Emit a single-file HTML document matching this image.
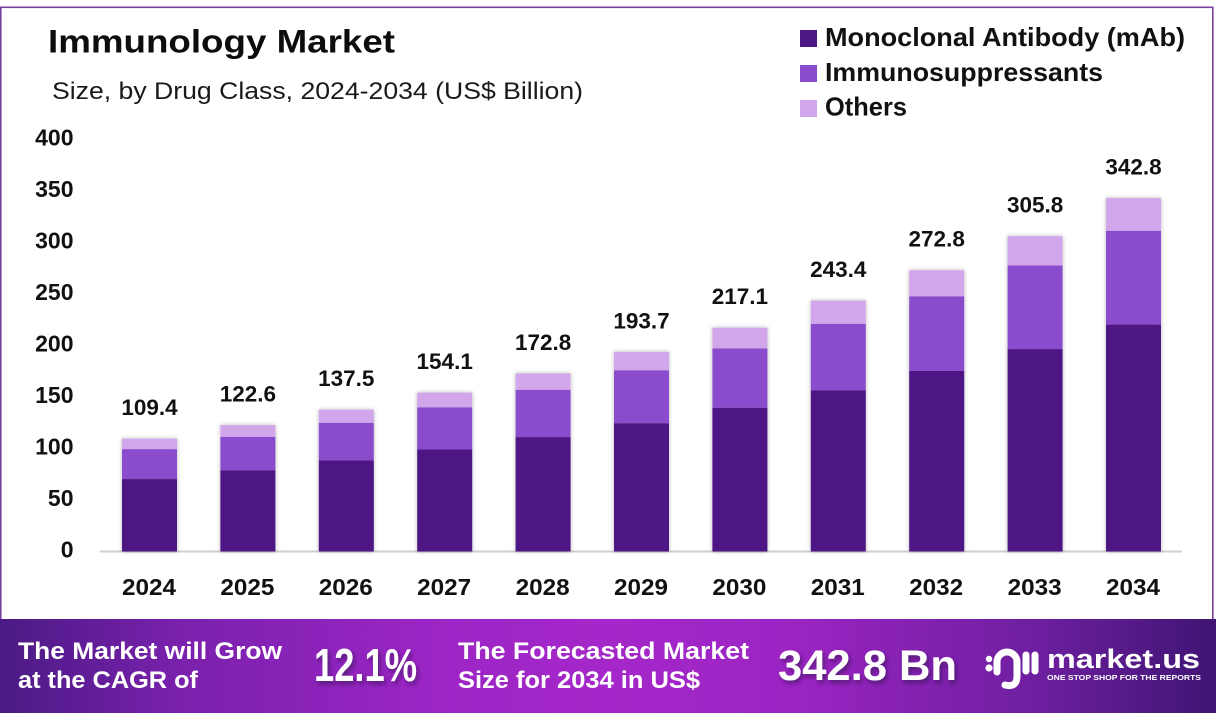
<!DOCTYPE html>
<html>
<head>
<meta charset="utf-8">
<style>
html,body{margin:0;padding:0;background:#fff;}
body{width:1216px;height:722px;overflow:hidden;}
svg{display:block;font-family:"Liberation Sans",sans-serif;}
</style>
</head>
<body>
<svg width="1216" height="722" viewBox="0 0 1216 722" xmlns="http://www.w3.org/2000/svg">
<defs>
  <linearGradient id="ban" x1="0" y1="0" x2="1" y2="0">
    <stop offset="0" stop-color="#4a1a84"/>
    <stop offset="0.15" stop-color="#7a21ad"/>
    <stop offset="0.35" stop-color="#9b25c4"/>
    <stop offset="0.5" stop-color="#a527c9"/>
    <stop offset="0.65" stop-color="#9c24c3"/>
    <stop offset="0.85" stop-color="#6e1fa0"/>
    <stop offset="1" stop-color="#3f1573"/>
  </linearGradient>
  <filter id="bs" x="-20%" y="-5%" width="140%" height="110%">
    <feDropShadow dx="0" dy="0" stdDeviation="2" flood-color="#000" flood-opacity="0.28"/>
  </filter>
  <filter id="ts" x="-10%" y="-20%" width="130%" height="150%">
    <feDropShadow dx="2" dy="3" stdDeviation="2" flood-color="#2a0a45" flood-opacity="0.55"/>
  </filter>
</defs>

<rect x="0" y="0" width="1216" height="722" fill="#fff"/>
<!-- frame -->
<rect x="0.8" y="7.3" width="1212" height="613" fill="none" stroke="#7b3f9f" stroke-width="1.6"/>

<!-- title -->
<text x="48" y="52.5" font-size="32" font-weight="bold" fill="#0d0d0d" textLength="347" lengthAdjust="spacingAndGlyphs">Immunology Market</text>
<text x="52" y="99" font-size="24" fill="#1a1a1a" textLength="531" lengthAdjust="spacingAndGlyphs">Size, by Drug Class, 2024-2034 (US$ Billion)</text>

<!-- legend -->
<rect x="800" y="30" width="17" height="17" fill="#4d1684"/>
<rect x="800" y="65" width="17" height="17" fill="#8a4ccc"/>
<rect x="800" y="100" width="17" height="17" fill="#d1a6ea"/>
<text x="825" y="46" font-size="26" font-weight="bold" fill="#111" textLength="360" lengthAdjust="spacingAndGlyphs">Monoclonal Antibody (mAb)</text>
<text x="825" y="81" font-size="26" font-weight="bold" fill="#111" textLength="278" lengthAdjust="spacingAndGlyphs">Immunosuppressants</text>
<text x="825" y="115.5" font-size="26" font-weight="bold" fill="#111" textLength="82" lengthAdjust="spacingAndGlyphs">Others</text>

<!-- y axis labels -->
<g font-size="23" font-weight="bold" fill="#111" text-anchor="end">
  <text x="73.5" y="145.5">400</text>
  <text x="73.5" y="197">350</text>
  <text x="73.5" y="248.5">300</text>
  <text x="73.5" y="300">250</text>
  <text x="73.5" y="351.5">200</text>
  <text x="73.5" y="403">150</text>
  <text x="73.5" y="454.5">100</text>
  <text x="73.5" y="506">50</text>
  <text x="73.5" y="557.5">0</text>
</g>

<!-- baseline -->
<line x1="100" y1="551.5" x2="1182" y2="551.5" stroke="#cfcfcf" stroke-width="2"/>

<!-- bars -->
<g filter="url(#bs)">
  <rect x="122" y="438.7" width="55" height="10.5" fill="#d1a6ea"/>
  <rect x="122" y="449.2" width="55" height="29.9" fill="#8a4ccc"/>
  <rect x="122" y="479.1" width="55" height="72.4" fill="#4d1684"/>
</g>
<g filter="url(#bs)">
  <rect x="220.4" y="425.1" width="55" height="11.8" fill="#d1a6ea"/>
  <rect x="220.4" y="436.9" width="55" height="33.45" fill="#8a4ccc"/>
  <rect x="220.4" y="470.35" width="55" height="81.15" fill="#4d1684"/>
</g>
<g filter="url(#bs)">
  <rect x="318.8" y="409.7" width="55" height="13.2" fill="#d1a6ea"/>
  <rect x="318.8" y="422.9" width="55" height="37.6" fill="#8a4ccc"/>
  <rect x="318.8" y="460.5" width="55" height="91" fill="#4d1684"/>
</g>
<g filter="url(#bs)">
  <rect x="417.2" y="392.6" width="55" height="14.8" fill="#d1a6ea"/>
  <rect x="417.2" y="407.4" width="55" height="42.1" fill="#8a4ccc"/>
  <rect x="417.2" y="449.5" width="55" height="102" fill="#4d1684"/>
</g>
<g filter="url(#bs)">
  <rect x="515.6" y="373.3" width="55" height="16.6" fill="#d1a6ea"/>
  <rect x="515.6" y="389.9" width="55" height="47.2" fill="#8a4ccc"/>
  <rect x="515.6" y="437.1" width="55" height="114.4" fill="#4d1684"/>
</g>
<g filter="url(#bs)">
  <rect x="614" y="351.8" width="55" height="18.6" fill="#d1a6ea"/>
  <rect x="614" y="370.4" width="55" height="52.9" fill="#8a4ccc"/>
  <rect x="614" y="423.3" width="55" height="128.2" fill="#4d1684"/>
</g>
<g filter="url(#bs)">
  <rect x="712.4" y="327.7" width="55" height="20.8" fill="#d1a6ea"/>
  <rect x="712.4" y="348.5" width="55" height="59.3" fill="#8a4ccc"/>
  <rect x="712.4" y="407.8" width="55" height="143.7" fill="#4d1684"/>
</g>
<g filter="url(#bs)">
  <rect x="810.8" y="300.6" width="55" height="23.3" fill="#d1a6ea"/>
  <rect x="810.8" y="323.9" width="55" height="66.5" fill="#8a4ccc"/>
  <rect x="810.8" y="390.4" width="55" height="161.1" fill="#4d1684"/>
</g>
<g filter="url(#bs)">
  <rect x="909.2" y="270.2" width="55" height="26.2" fill="#d1a6ea"/>
  <rect x="909.2" y="296.4" width="55" height="74.5" fill="#8a4ccc"/>
  <rect x="909.2" y="370.9" width="55" height="180.6" fill="#4d1684"/>
</g>
<g filter="url(#bs)">
  <rect x="1007.6" y="236.2" width="55" height="29.3" fill="#d1a6ea"/>
  <rect x="1007.6" y="265.5" width="55" height="83.6" fill="#8a4ccc"/>
  <rect x="1007.6" y="349.1" width="55" height="202.4" fill="#4d1684"/>
</g>
<g filter="url(#bs)">
  <rect x="1106" y="198.1" width="55" height="32.8" fill="#d1a6ea"/>
  <rect x="1106" y="230.9" width="55" height="93.7" fill="#8a4ccc"/>
  <rect x="1106" y="324.6" width="55" height="226.9" fill="#4d1684"/>
</g>

<!-- value labels -->
<g font-size="22.5" font-weight="bold" fill="#111" text-anchor="middle">
  <text x="149.5" y="415.2">109.4</text>
  <text x="247.9" y="401.6">122.6</text>
  <text x="346.3" y="386.2">137.5</text>
  <text x="444.7" y="369.1">154.1</text>
  <text x="543.1" y="349.8">172.8</text>
  <text x="641.5" y="328.3">193.7</text>
  <text x="739.9" y="304.2">217.1</text>
  <text x="838.3" y="277.1">243.4</text>
  <text x="936.7" y="246.7">272.8</text>
  <text x="1035.1" y="212.7">305.8</text>
  <text x="1133.5" y="174.6">342.8</text>
</g>

<!-- year labels -->
<g font-size="23" font-weight="bold" fill="#111">
  <text x="122" y="595" textLength="54" lengthAdjust="spacingAndGlyphs">2024</text>
  <text x="220.4" y="595" textLength="54" lengthAdjust="spacingAndGlyphs">2025</text>
  <text x="318.8" y="595" textLength="54" lengthAdjust="spacingAndGlyphs">2026</text>
  <text x="417.2" y="595" textLength="54" lengthAdjust="spacingAndGlyphs">2027</text>
  <text x="515.6" y="595" textLength="54" lengthAdjust="spacingAndGlyphs">2028</text>
  <text x="614" y="595" textLength="54" lengthAdjust="spacingAndGlyphs">2029</text>
  <text x="712.4" y="595" textLength="54" lengthAdjust="spacingAndGlyphs">2030</text>
  <text x="810.8" y="595" textLength="54" lengthAdjust="spacingAndGlyphs">2031</text>
  <text x="909.2" y="595" textLength="54" lengthAdjust="spacingAndGlyphs">2032</text>
  <text x="1007.6" y="595" textLength="54" lengthAdjust="spacingAndGlyphs">2033</text>
  <text x="1106" y="595" textLength="54" lengthAdjust="spacingAndGlyphs">2034</text>
</g>

<!-- banner -->
<rect x="0" y="619" width="1216" height="94" fill="url(#ban)"/>
<g font-weight="bold" fill="#fff">
  <text x="18" y="659" font-size="24" textLength="264" lengthAdjust="spacingAndGlyphs">The Market will Grow</text>
  <text x="18" y="688" font-size="24" textLength="180" lengthAdjust="spacingAndGlyphs">at the CAGR of</text>
  <text x="314" y="681" font-size="46" textLength="103" lengthAdjust="spacingAndGlyphs" filter="url(#ts)">12.1%</text>
  <text x="458" y="659" font-size="24" textLength="291" lengthAdjust="spacingAndGlyphs">The Forecasted Market</text>
  <text x="458" y="688" font-size="24" textLength="242" lengthAdjust="spacingAndGlyphs">Size for 2034 in US$</text>
  <text x="778" y="680" font-size="42.5" textLength="179" lengthAdjust="spacingAndGlyphs" filter="url(#ts)">342.8 Bn</text>
</g>

<!-- logo -->
<g fill="none" stroke="#fff" stroke-width="7" stroke-linecap="round" stroke-linejoin="round">
  <path d="M997 672 V662 A10 10 0 0 1 1017 662 V676 Q1017 688 1005 685"/>
  <line x1="1026" y1="655" x2="1026" y2="671"/>
  <line x1="1035" y1="655" x2="1035" y2="671"/>
</g>
<circle cx="989" cy="659" r="3.2" fill="#fff"/>
<circle cx="989" cy="668" r="3.6" fill="#fff"/>
<text x="1047" y="668" font-size="27" font-weight="bold" fill="#fff" textLength="153" lengthAdjust="spacingAndGlyphs">market.us</text>
<text x="1047" y="680" font-size="7.5" font-weight="bold" fill="#fff" textLength="154" lengthAdjust="spacingAndGlyphs">ONE STOP SHOP FOR THE REPORTS</text>
</svg>
</body>
</html>
